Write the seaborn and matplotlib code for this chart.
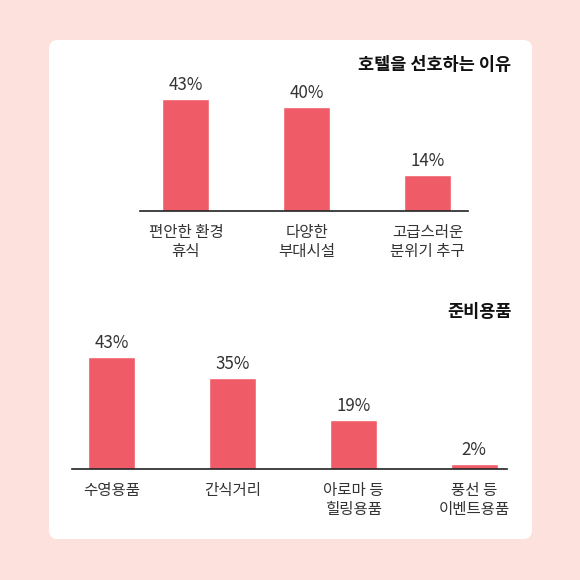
import pandas as pd
import seaborn as sns
import matplotlib.pyplot as plt
from matplotlib.patches import FancyBboxPatch

# Chart data
hotel_title = "호텔을 선호하는 이유"
hotel_labels = ["편안한 환경\n휴식", "다양한\n부대시설", "고급스러운\n분위기 추구"]
hotel_values = [43, 40, 14]

prep_title = "준비용품"
prep_labels = ["수영용품", "간식거리", "아로마 등\n힐링용품", "풍선 등\n이벤트용품"]
prep_values = [43, 35, 19, 2]

BG = "#fde1dd"
BAR = "#f05b68"
W, H = 580, 580

sns.set_theme(style="white")
plt.rcParams['font.family'] = ['Noto Sans CJK KR', 'DejaVu Sans']

fig = plt.figure(figsize=(5.8, 5.8), dpi=100)
fig.patch.set_facecolor(BG)

# white rounded card, behind the axes
card = FancyBboxPatch((49 / W, 1 - 539 / H), (532 - 49) / W, (539 - 40) / H,
                      boxstyle="round,pad=0,rounding_size=0.015",
                      transform=fig.transFigure, facecolor="white",
                      edgecolor="none", zorder=-10)
fig.patches.append(card)


def draw_chart(rect, labels, values, title, xlim, title_x, title_y):
    ax = fig.add_axes(rect)
    ax.set_facecolor("none")
    ax.set_zorder(5)
    df = pd.DataFrame({"cat": labels, "val": values})
    sns.barplot(data=df, x="cat", y="val", color=BAR, width=0.39,
                saturation=1, ax=ax)
    ax.set_xlim(*xlim)
    ax.set_ylim(0, 50)
    for i, v in enumerate(values):
        ax.annotate(f"{v}%", (i, v), xytext=(0, 10), textcoords="offset points",
                    ha="center", va="center", fontsize=12.2, fontweight="light",
                    color="#333333")
    ax.set_xlabel("")
    ax.set_ylabel("")
    ax.set_yticks([])
    ax.tick_params(axis="x", length=0, pad=9, labelsize=11.2, labelcolor="#333333")
    for lab in ax.get_xticklabels():
        lab.set_linespacing(1.2)
        lab.set_fontweight("light")
    for s in ["top", "left", "right"]:
        ax.spines[s].set_visible(False)
    ax.spines["bottom"].set_color("#222222")
    ax.spines["bottom"].set_linewidth(1.2)
    fig.text(title_x / W, 1 - title_y / H, title, ha="right", va="center",
             fontsize=12.6, fontweight="bold", color="#111111")
    return ax


ph = 130.2 / H
draw_chart([140 / W, 1 - 211 / H, 328 / W, ph], hotel_labels, hotel_values,
           hotel_title, (-0.38, 2.335), 511, 65)
draw_chart([71.7 / W, 1 - 469 / H, 435 / W, ph], prep_labels, prep_values,
           prep_title, (-0.331, 3.269), 512, 312)

fig.savefig("out.png", dpi=100, facecolor=BG)
